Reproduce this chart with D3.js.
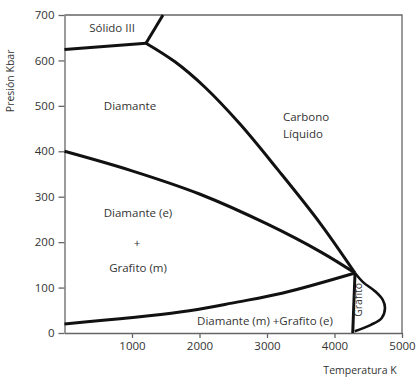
<!DOCTYPE html>
<html>
<head>
<meta charset="utf-8">
<script src="https://cdn.jsdelivr.net/npm/d3@7"></script>
<style>
  body { margin: 0; background: #fff; }
  text { font-family: "Open Sans", sans-serif; fill: #333; }
</style>
</head>
<body>
<div id="chart"></div>
<script>
// phase boundaries of carbon, [temperature K, pressure kbar]
const solidIIIDiamond = [[0, 624], [1207, 638]];
const solidIIILiquid = [[1207, 638], [1330, 668], [1459, 700]];
const diamondLiquid = [[1207, 638], [1637, 597], [2081, 541], [2600, 460], [3163, 359], [3785, 242], [4304, 132]];
const upperMetastable = [[0, 400], [1000, 357], [2000, 306], [3000, 240], [3800, 178], [4304, 132]];
const lowerMetastable = [[0, 20], [1711, 46], [2555, 68], [3237, 88], [4304, 132]];
const graphiteLiquid = [[4304, 132], [4270, 0]];
const graphiteLoop = [[4304, 132], [4422, 112], [4600, 92], [4715, 73], [4748, 55], [4700, 33], [4540, 18], [4300, 4]];

const xTicks = [1000, 2000, 3000, 4000, 5000];
const yTicks = [0, 100, 200, 300, 400, 500, 600, 700];

// region labels: [text, T, P]
const labels = [
  ["Sólido III", 705, 662],
  ["Diamante", 970, 490],
  ["Diamante (e)", 1089, 255],
  ["+", 1074, 190],
  ["Grafito (m)", 1089, 135],
  ["Diamante (m) +Grafito (e)", 2970, 18]
];
const liquidLabel = ["Carbono", "Líquido"];

const width = 416, height = 377;

const svg = d3.select("#chart")
  .append("svg")
  .attr("width", width)
  .attr("height", height);

const xScale = d3.scaleLinear().domain([0, 5000]).range([64.5, 402]);
const yScale = d3.scaleLinear().domain([0, 700]).range([333, 15]);

// x axis
svg.append("g")
  .attr("transform", `translate(0,${yScale(0)})`)
  .call(d3.axisBottom(xScale)
    .tickValues(xTicks)
    .tickFormat(d3.format("d"))
    .tickSize(5)
    .tickSizeOuter(0)
    .tickPadding(4))
  .call(g => g.selectAll("text").attr("font-size", 11.5).attr("font-family", null))
  .call(g => g.selectAll("line,path").attr("stroke", "#666").attr("stroke-width", 1.3));

// y axis
svg.append("g")
  .attr("transform", `translate(${xScale(0)},0)`)
  .call(d3.axisLeft(yScale)
    .tickValues(yTicks)
    .tickFormat(d3.format("d"))
    .tickSize(6)
    .tickSizeOuter(0)
    .tickPadding(4))
  .call(g => g.selectAll("text").attr("font-size", 11.5).attr("font-family", null))
  .call(g => g.selectAll("line,path").attr("stroke", "#666").attr("stroke-width", 1.3));

// frame on top and right
svg.append("path")
  .attr("d", `M${xScale(0)},${yScale(700)}H${xScale(5000)}V${yScale(0)}`)
  .attr("fill", "none")
  .attr("stroke", "#666")
  .attr("stroke-width", 1.3);

// axis titles
svg.append("text")
  .attr("transform", `translate(14,${yScale(555)}) rotate(-90)`)
  .attr("text-anchor", "middle")
  .attr("font-size", 10.5)
  .text("Presión Kbar");

svg.append("text")
  .attr("x", 360)
  .attr("y", 374)
  .attr("text-anchor", "middle")
  .attr("font-size", 10.5)
  .text("Temperatura K");

// boundaries
const line = d3.line()
  .x(d => xScale(d[0]))
  .y(d => yScale(d[1]))
  .curve(d3.curveCatmullRom);

const curves = [solidIIIDiamond, solidIIILiquid, diamondLiquid, upperMetastable, lowerMetastable, graphiteLiquid];
svg.append("g")
  .selectAll("path")
  .data(curves)
  .join("path")
  .attr("d", line)
  .attr("fill", "none")
  .attr("stroke", "#111")
  .attr("stroke-width", 3)
  .attr("stroke-linejoin", "round");

svg.append("path")
  .attr("d", line(graphiteLoop))
  .attr("fill", "none")
  .attr("stroke", "#111")
  .attr("stroke-width", 2.6);

// region labels
svg.append("g")
  .selectAll("text")
  .data(labels)
  .join("text")
  .attr("x", d => xScale(d[1]))
  .attr("y", d => yScale(d[2]))
  .attr("text-anchor", "middle")
  .attr("font-size", 11.5)
  .text(d => d[0]);

svg.append("g")
  .selectAll("text")
  .data(liquidLabel)
  .join("text")
  .attr("x", xScale(3237))
  .attr("y", (d, i) => yScale(466) + i * 17)
  .attr("font-size", 11.5)
  .text(d => d);

svg.append("text")
  .attr("transform", `translate(${xScale(4400)},${yScale(73)}) rotate(-90)`)
  .attr("text-anchor", "middle")
  .attr("font-size", 10.5)
  .text("Grafito");
</script>
</body>
</html>
